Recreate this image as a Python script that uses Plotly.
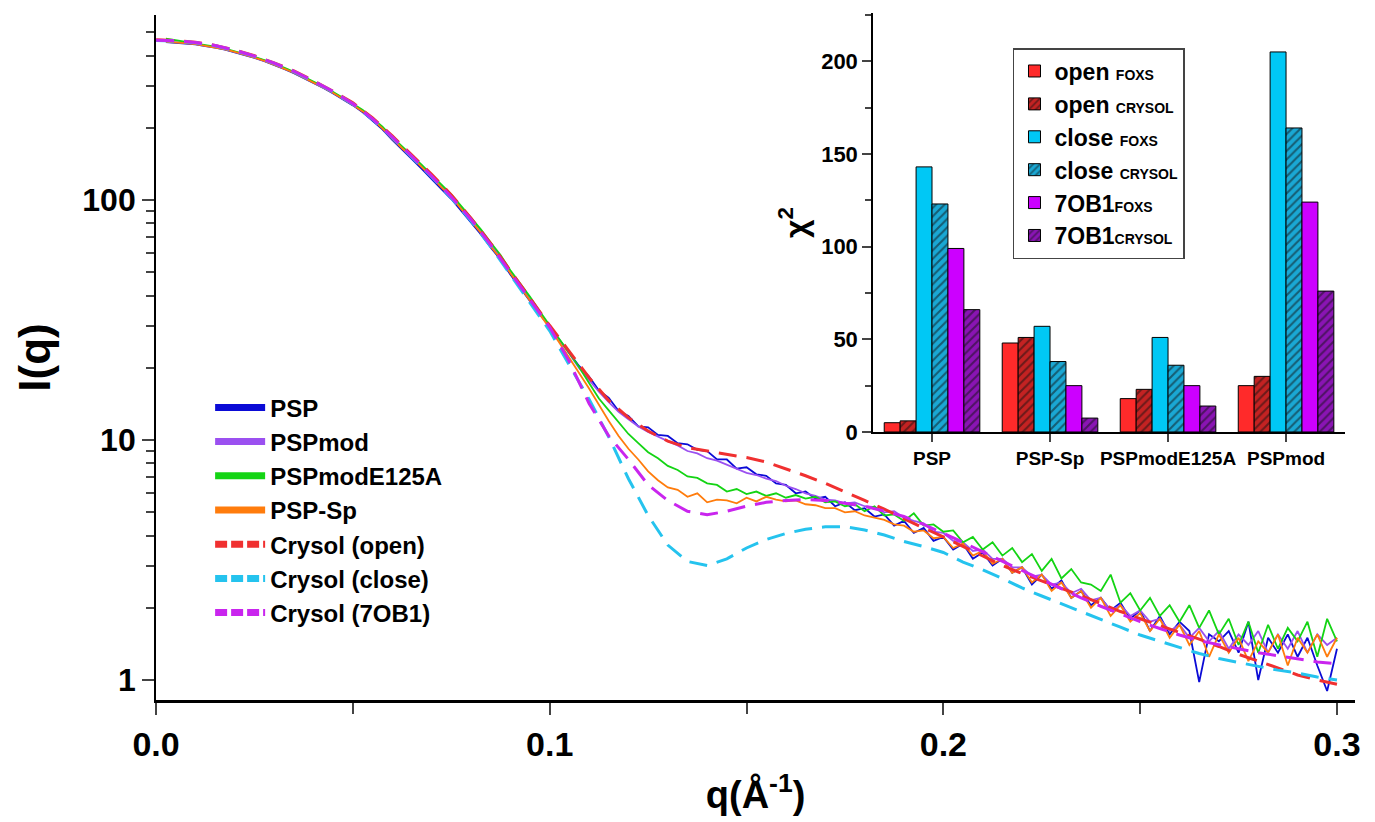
import plotly.graph_objects as go

# ---- SAXS curves ----
q_exp = [
    0.0025, 0.005, 0.0075, 0.01, 0.0125, 0.015, 0.0175, 0.02, 0.0225, 0.025,
    0.0275, 0.03, 0.0325, 0.035, 0.0375, 0.04, 0.0425, 0.045, 0.0475, 0.05,
    0.0525, 0.055, 0.0575, 0.06, 0.0625, 0.065, 0.0675, 0.07, 0.0725, 0.075,
    0.0775, 0.08, 0.0825, 0.085, 0.0875, 0.09, 0.0925, 0.095, 0.0975, 0.1,
    0.1025, 0.105, 0.1075, 0.11, 0.1125, 0.115, 0.1175, 0.12, 0.1225, 0.125,
    0.1275, 0.13, 0.1325, 0.135, 0.1375, 0.14, 0.1425, 0.145, 0.1475, 0.15,
    0.1525, 0.155, 0.1575, 0.16, 0.1625, 0.165, 0.1675, 0.17, 0.1725, 0.175,
    0.1775, 0.18, 0.1825, 0.185, 0.1875, 0.19, 0.1925, 0.195, 0.1975, 0.2,
    0.2025, 0.205, 0.2075, 0.21, 0.2125, 0.215, 0.2175, 0.22, 0.2225, 0.225,
    0.2275, 0.23, 0.2325, 0.235, 0.2375, 0.24, 0.2425, 0.245, 0.2475, 0.25,
    0.2525, 0.255, 0.2575, 0.26, 0.2625, 0.265, 0.2675, 0.27, 0.2725, 0.275,
    0.2775, 0.28, 0.2825, 0.285, 0.2875, 0.29, 0.2925, 0.295, 0.2975, 0.3,
]

psp = [
    455, 452, 449, 445, 438, 432, 423, 413, 403, 391,
    379, 366, 352, 338, 323, 308, 293, 278, 263, 248,
    232, 214, 197, 178, 163, 148, 135, 123, 111, 101,
    90.5, 80.5, 72, 63.5, 56.5, 49, 43, 38, 33.4, 29.6,
    26.1, 23.2, 20.3, 18.4, 16.1, 15.0, 13.2, 12.6, 11.4, 11.3,
    10.5, 10.4, 9.7, 9.6, 9.1, 9.0, 8.3, 8.3, 7.6, 7.7,
    7.2, 7.1, 6.6, 6.5, 6.0, 6.1, 5.7, 5.8, 5.3, 5.5,
    5.1, 5.2, 4.8, 4.9, 4.4, 4.6, 4.1, 4.3, 3.8, 3.95,
    3.5, 3.7, 3.2, 3.4, 3.0, 3.2, 2.8, 2.95, 2.5, 2.75,
    2.4, 2.6, 2.2, 2.35, 2.05, 2.2, 1.95, 2.1, 1.8, 1.95,
    1.6, 1.85, 1.55, 1.75, 1.6, 0.98, 1.55, 1.45, 1.6, 1.3,
    1.75, 1.0, 1.5, 1.3, 1.55, 1.25, 1.5, 1.15, 0.9, 1.35,
]

pspmod = [
    458, 455, 452, 447, 440, 434, 425, 415, 405, 393,
    381, 368, 354, 340, 325, 310, 295, 280, 265, 250,
    235, 217, 200, 181, 166, 151, 138, 126, 114, 104,
    93, 83, 74, 65, 58, 50, 44, 38.7, 33.8, 29.7,
    26, 22.9, 19.9, 17.8, 15.9, 14.4, 13.1, 12.2, 11.4, 10.8,
    10.3, 9.9, 9.5, 9.0, 8.8, 8.4, 8.2, 7.9, 7.6, 7.3,
    7.15, 6.9, 6.75, 6.45, 6.25, 6.0, 5.85, 5.65, 5.6, 5.45,
    5.5, 5.3, 5.25, 5.0, 5.05, 4.75, 4.6, 4.5, 4.15, 4.1,
    3.8, 3.75, 3.45, 3.5, 3.2, 3.2, 2.95, 2.95, 2.7, 2.75,
    2.5, 2.55, 2.3, 2.4, 2.15, 2.2, 1.95, 2.05, 1.85, 1.95,
    1.75, 1.8, 1.6, 1.7, 1.5, 1.65, 1.45, 1.6, 1.35, 1.55,
    1.4, 1.6, 1.3, 1.55, 1.35, 1.6, 1.3, 1.55, 1.4, 1.5,
]

pspmod_e125a = [
    470, 462, 454, 449, 442, 436, 427, 417, 407, 395,
    383, 370, 356, 342, 327, 312, 297, 282, 267, 252,
    237, 219, 202, 183, 168, 153, 140, 128, 116, 105.5,
    94.5, 84.5, 75.5, 66.5, 59, 51, 45, 39.5, 34.3, 30.1,
    26.3, 23.1, 20.1, 17.3, 14.9, 13.3, 11.9, 10.6, 9.7, 8.9,
    8.4, 7.8, 7.5, 7.05, 6.95, 6.6, 6.5, 6.1, 6.25, 5.95,
    6.1, 5.85, 6.0, 5.75, 5.9, 5.7, 5.8, 5.5, 5.55, 5.3,
    5.4, 5.05, 5.3, 4.85, 4.9, 4.6, 4.95, 4.4, 4.45, 4.15,
    4.2, 3.75, 3.95, 3.5, 3.75, 3.3, 3.55, 3.1, 3.35, 2.85,
    3.2, 2.65, 2.9, 2.55, 2.5, 2.35, 2.75, 2.1, 2.3, 1.95,
    2.2, 1.85, 2.05, 1.75, 2.05, 1.65, 1.95, 1.55, 1.8, 1.4,
    1.75, 1.3, 1.7, 1.35, 1.65, 1.45, 1.75, 1.25, 1.8, 1.45,
]

psp_sp = [
    456, 454, 451, 446, 439, 433, 424, 414, 404, 392,
    380, 367, 353, 339, 324, 309, 294, 279, 264, 249,
    234, 216, 199, 180, 165, 150, 137, 125, 113, 103,
    92, 82, 73, 64, 57, 49.5, 43.5, 38.2, 33.3, 29.2,
    25.4, 22.1, 19.0, 16.4, 14.0, 12.0, 10.4, 9.2, 8.3, 7.4,
    6.8, 6.35, 6.2, 5.8, 6.0, 5.5, 5.65, 5.6, 5.45, 5.75,
    5.55, 5.8, 5.65, 5.55, 5.6, 5.4, 5.35, 5.2, 5.2, 5.0,
    5.05, 4.85, 4.75, 4.65, 4.45, 4.4, 4.15, 4.2, 3.9, 3.95,
    3.55, 3.7, 3.3, 3.45, 3.05, 3.2, 2.8, 2.95, 2.55, 2.75,
    2.35, 2.55, 2.2, 2.35, 2.0, 2.2, 1.85, 2.05, 1.75, 1.9,
    1.6, 1.8, 1.5, 1.7, 1.4, 1.6, 1.25, 1.55, 1.3, 1.5,
    1.2, 1.45, 1.3, 1.55, 1.15, 1.5, 1.3, 1.55, 1.25, 1.5,
]

q_crysol = [
    0.0, 0.005, 0.01, 0.015, 0.02, 0.025, 0.03, 0.035, 0.04, 0.045,
    0.05, 0.055, 0.06, 0.065, 0.07, 0.075, 0.08, 0.085, 0.09, 0.095,
    0.1, 0.105, 0.11, 0.115, 0.12, 0.125, 0.13, 0.135, 0.14, 0.145,
    0.15, 0.155, 0.16, 0.165, 0.17, 0.175, 0.18, 0.185, 0.19, 0.195,
    0.2, 0.205, 0.21, 0.215, 0.22, 0.225, 0.23, 0.235, 0.24, 0.245,
    0.25, 0.255, 0.26, 0.265, 0.27, 0.275, 0.28, 0.285, 0.29, 0.295, 0.3,
]

crysol_open = [
    465, 462, 454, 441, 422, 399, 373, 345, 314, 284,
    254, 220, 185, 154, 128, 105, 84, 66, 51, 39,
    30, 23.3, 18.2, 14.6, 12.4, 10.9, 9.9, 9.3, 9.0, 8.75,
    8.45, 8.1, 7.6, 7.1, 6.6, 6.1, 5.6, 5.15, 4.7, 4.3,
    3.95, 3.6, 3.3, 3.0, 2.78, 2.58, 2.41, 2.25, 2.08, 1.93,
    1.8, 1.69, 1.58, 1.48, 1.38, 1.28, 1.2, 1.12, 1.05, 1.0, 0.96,
]

crysol_close = [
    462, 460, 452, 439, 420, 397, 371, 343, 312, 282,
    251, 217, 182, 151, 125, 102, 82, 64, 49, 37.5,
    28.5, 20.5, 14.8, 10.3, 6.9, 4.85, 3.65, 3.12, 3.0, 3.2,
    3.55, 3.85, 4.08, 4.25, 4.35, 4.35, 4.22, 4.02, 3.78, 3.6,
    3.4, 3.1, 2.88, 2.65, 2.42, 2.24, 2.08, 1.94, 1.8, 1.66,
    1.54, 1.45, 1.37, 1.29, 1.23, 1.18, 1.14, 1.1, 1.07, 1.03, 1.0,
]

crysol_7ob1 = [
    463, 461, 453, 440, 421, 398, 372, 344, 313, 283,
    252, 218, 183, 152, 126, 103, 83, 65, 50, 38.5,
    29.5, 21.2, 14.2, 10.4, 8.3, 6.5, 5.6, 5.05, 4.88, 5.05,
    5.3, 5.5, 5.6, 5.65, 5.6, 5.45, 5.3, 5.05, 4.8, 4.45,
    4.1, 3.75, 3.42, 3.12, 2.86, 2.62, 2.4, 2.2, 2.03, 1.88,
    1.75, 1.64, 1.54, 1.46, 1.4, 1.35, 1.3, 1.26, 1.22, 1.19, 1.17,
]

# ---- chi^2 inset ----
groups = ["PSP", "PSP-Sp", "PSPmodE125A", "PSPmod"]
open_foxs = [5, 48, 18, 25]
open_crysol = [6, 51, 23, 30]
close_foxs = [143, 57, 51, 205]
close_crysol = [123, 38, 36, 164]
ob1_foxs = [99, 25, 25, 124]
ob1_crysol = [66, 7.5, 14, 76]

FONT = "Liberation Sans, Arial, sans-serif"

fig = go.Figure()

exp_series = [
    ("PSP", psp, "#0b0bd6"),
    ("PSPmod", pspmod, "#9b50f0"),
    ("PSPmodE125A", pspmod_e125a, "#14d414"),
    ("PSP-Sp", psp_sp, "#ff7c0c"),
]
crysol_series = [
    ("Crysol (open)", crysol_open, "#f03030"),
    ("Crysol (close)", crysol_close, "#25c3ee"),
    ("Crysol (7OB1)", crysol_7ob1, "#c925ee"),
]

for name, vals, col in exp_series:
    fig.add_trace(go.Scatter(x=q_exp, y=vals, mode="lines", name=name,
                             line=dict(color=col, width=1.8), showlegend=False))
for name, vals, col in crysol_series:
    fig.add_trace(go.Scatter(x=q_crysol, y=vals, mode="lines", name=name,
                             line=dict(color=col, width=3, dash="18px,10px"),
                             showlegend=False))

# thick swatches for the main legend
for name, _, col in exp_series:
    fig.add_trace(go.Scatter(x=[None], y=[None], mode="lines", name=name,
                             line=dict(color=col, width=7), legend="legend"))
for name, _, col in crysol_series:
    fig.add_trace(go.Scatter(x=[None], y=[None], mode="lines", name=name,
                             line=dict(color=col, width=7, dash="12px,4px"),
                             legend="legend"))

small = "<span style='font-size:14px'>%s</span>"
bars = [
    ("open " + small % "FOXS", open_foxs, "#ff2a2a", None),
    ("open " + small % "CRYSOL", open_crysol, "#c42222", "/"),
    ("close " + small % "FOXS", close_foxs, "#00c8f5", None),
    ("close " + small % "CRYSOL", close_crysol, "#1aa8d4", "/"),
    ("7OB1" + small % "FOXS", ob1_foxs, "#cc00ff", None),
    ("7OB1" + small % "CRYSOL", ob1_crysol, "#8a14b4", "/"),
]
for name, vals, col, shape in bars:
    marker = dict(color=col, line=dict(color="black", width=1))
    if shape:
        marker["pattern"] = dict(shape=shape, fgcolor="#111111", bgcolor=col,
                                 size=6, solidity=0.35)
    fig.add_trace(go.Bar(x=groups, y=vals, name=name, marker=marker,
                         xaxis="x2", yaxis="y2", legend="legend2"))

minor_y = [2, 3, 4, 5, 6, 7, 8, 9, 20, 30, 40, 50, 60, 70, 80, 90,
           200, 300, 400, 500]

fig.update_layout(
    width=1375, height=822,
    margin=dict(l=0, r=0, t=0, b=0),
    paper_bgcolor="white", plot_bgcolor="white",
    font=dict(family=FONT, color="black"),
    barmode="group", bargap=0.19, bargroupgap=0,
    xaxis=dict(
        domain=[0.1077, 0.9797], range=[0, 0.3046], anchor="y",
        dtick=0.1, tickformat=".1f", ticks="outside", ticklen=12, tickwidth=2,
        minor=dict(dtick=0.05, ticks="outside", ticklen=11, tickwidth=2),
        showline=True, linewidth=2.5, linecolor="black", mirror=False,
        showgrid=False, zeroline=False, automargin=False,
        tickfont=dict(size=34, weight="bold"),
        title=dict(text="q(Å<sup>-1</sup>)", standoff=20,
                   font=dict(size=38, weight="bold")),
    ),
    yaxis=dict(
        domain=[0.1581, 0.9915], type="log", range=[-0.0833, 2.771],
        anchor="x", tickvals=[1, 10, 100], ticktext=["1", "10", "100"],
        ticks="outside", ticklen=12, tickwidth=2,
        minor=dict(tickvals=minor_y, ticks="outside", ticklen=8, tickwidth=1.5),
        showline=True, linewidth=2, linecolor="black",
        showgrid=False, zeroline=False, automargin=False,
        tickfont=dict(size=32, weight="bold"),
        title=dict(text="I(q)", standoff=18, font=dict(size=44, weight="bold")),
    ),
    xaxis2=dict(
        domain=[0.6291, 0.9724], anchor="y2", type="category",
        range=[-0.5, 3.5], ticks="outside", ticklen=8, tickwidth=1.5,
        showline=True, linewidth=1.5, linecolor="black",
        showgrid=False, zeroline=False, automargin=False,
        tickfont=dict(size=19, weight="bold"),
    ),
    yaxis2=dict(
        domain=[0.4842, 0.9939], anchor="x2", range=[0, 226],
        dtick=50, ticks="outside", ticklen=9, tickwidth=1.5,
        minor=dict(dtick=25, ticks="outside", ticklen=6, tickwidth=1.5),
        showline=True, linewidth=1.5, linecolor="black",
        showgrid=False, zeroline=False, automargin=False,
        tickfont=dict(size=22, weight="bold"),
        title=dict(text="χ<sup>2</sup>", standoff=4,
                   font=dict(size=32, weight="bold")),
    ),
    legend=dict(
        x=0.147, y=0.541, xanchor="left", yanchor="top",
        bgcolor="rgba(0,0,0,0)", borderwidth=0, itemwidth=50,
        font=dict(size=24, weight="bold"), tracegroupgap=0,
    ),
    legend2=dict(
        x=0.7309, y=0.9513, xanchor="left", yanchor="top",
        bgcolor="white", bordercolor="#444444", borderwidth=1.5,
        font=dict(size=23, weight="bold"), tracegroupgap=0,
    ),
)

fig.write_html("out.html")
